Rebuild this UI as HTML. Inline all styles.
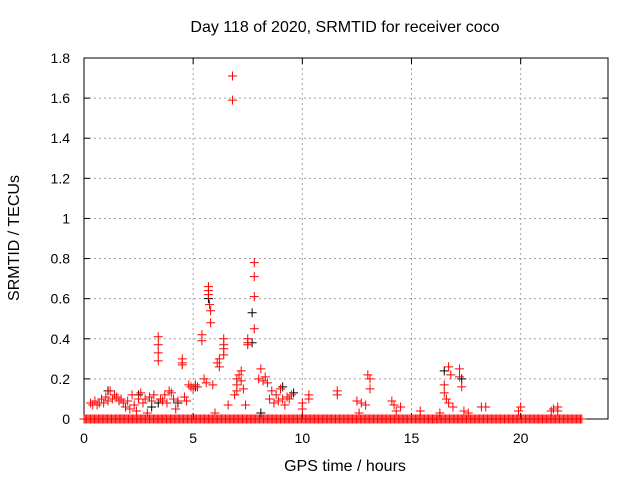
<!DOCTYPE html>
<html><head><meta charset="utf-8"><style>
html,body{margin:0;padding:0;background:#fff;}
svg{display:block;font-family:"Liberation Sans",sans-serif;}
</style></head><body>
<svg id="chart" width="640" height="480" xmlns="http://www.w3.org/2000/svg">
<rect width="640" height="480" fill="#fff"/>
<text x="345" y="32" font-size="16" text-anchor="middle">Day 118 of 2020, SRMTID for receiver coco</text>
<g id="grid"></g><g id="axes"></g><g id="marks"></g>
<text x="345" y="471" font-size="16" text-anchor="middle">GPS time / hours</text>
<text transform="translate(19,238) rotate(-90)" font-size="16" text-anchor="middle">SRMTID / TECUs</text>
</svg>
<script>
const xTicks=[0,5,10,15,20];
const yTicks=[0,0.2,0.4,0.6,0.8,1,1.2,1.4,1.6,1.8];
const yTickLabels=["0","0.2","0.4","0.6","0.8","1","1.2","1.4","1.6","1.8"];
const zeroRanges=[[0,22.8]];
const redTimes=[0.3,0.4,0.5,0.6,0.7,0.8,0.9,1.0,1.1,1.2,1.3,1.4,1.5,1.6,1.7,1.8,1.9,2.0,2.1,2.2,2.3,2.4,2.5,2.6,2.7,2.8,2.9,3.0,3.1,3.2,3.4,3.4,3.4,3.4,3.5,3.6,3.7,3.8,3.9,4.0,4.1,4.2,4.3,4.5,4.5,4.5,4.6,4.7,4.8,4.9,5.0,5.1,5.2,5.4,5.4,5.5,5.6,5.7,5.7,5.7,5.75,5.8,5.8,5.9,6.0,6.1,6.2,6.2,6.4,6.4,6.4,6.4,6.6,6.8,6.8,6.9,7.0,7.0,7.0,7.1,7.2,7.2,7.3,7.4,7.5,7.5,7.5,7.8,7.8,7.8,7.8,8.0,8.1,8.2,8.3,8.4,8.5,8.6,8.7,8.8,8.9,9.0,9.1,9.2,9.3,9.4,9.5,10.0,10.0,10.3,10.3,11.6,11.6,12.5,12.6,12.7,12.9,13.0,13.1,13.1,14.1,14.2,14.3,14.5,15.4,16.3,16.5,16.5,16.6,16.7,16.7,16.8,16.9,17.2,17.2,17.3,17.4,17.6,18.2,18.4,19.9,20.0,21.4,21.5,21.7,21.7];
const redValues=[0.08,0.07,0.09,0.07,0.08,0.1,0.08,0.11,0.09,0.14,0.1,0.12,0.11,0.09,0.1,0.08,0.06,0.09,0.05,0.12,0.07,0.04,0.1,0.13,0.08,0.1,0.03,0.11,0.09,0.12,0.41,0.37,0.33,0.29,0.1,0.09,0.12,0.08,0.14,0.13,0.1,0.05,0.09,0.3,0.28,0.27,0.11,0.09,0.17,0.16,0.15,0.17,0.16,0.42,0.39,0.2,0.18,0.66,0.64,0.62,0.57,0.54,0.48,0.17,0.03,0.28,0.3,0.26,0.4,0.37,0.35,0.32,0.07,1.71,1.59,0.12,0.2,0.17,0.14,0.22,0.24,0.19,0.15,0.07,0.4,0.38,0.37,0.78,0.71,0.61,0.45,0.2,0.25,0.19,0.21,0.18,0.1,0.14,0.08,0.12,0.09,0.15,0.1,0.07,0.11,0.1,0.12,0.08,0.05,0.12,0.1,0.14,0.12,0.09,0.03,0.08,0.07,0.22,0.2,0.15,0.09,0.07,0.04,0.06,0.04,0.03,0.17,0.13,0.1,0.08,0.26,0.22,0.06,0.25,0.21,0.16,0.04,0.03,0.06,0.06,0.04,0.06,0.04,0.05,0.04,0.06];
const blackTimes=[1.1,2.5,3.1,3.4,4.3,5.1,5.7,7.7,7.7,8.1,9.1,9.6,16.5,17.3];
const blackValues=[0.14,0.12,0.06,0.08,0.08,0.16,0.6,0.53,0.38,0.03,0.16,0.13,0.24,0.2];

const L=84,R=608,T=58,B=419,XMAX=24,YMAX=1.8;
const xs=t=>L+(R-L)*t/XMAX, ys=v=>B-(B-T)*v/YMAX;
const NS="http://www.w3.org/2000/svg";
function mk(tag,attrs,parent){const e=document.createElementNS(NS,tag);for(const k in attrs)e.setAttribute(k,attrs[k]);parent.appendChild(e);return e;}
const grid=document.getElementById('grid'),axes=document.getElementById('axes'),marks=document.getElementById('marks');
yTicks.forEach((v,i)=>{const y=ys(v);
 if(i>0&&i<yTicks.length-1){const g=mk('line',{x1:L,x2:R,y1:y,y2:y,stroke:'#a0a0a0','stroke-dasharray':'2,3'},grid);
 
 }
 mk('line',{x1:L,x2:L+6,y1:y,y2:y,stroke:'#000'},axes);mk('line',{x1:R,x2:R-6,y1:y,y2:y,stroke:'#000'},axes);
 const t=mk('text',{x:70,y:y+5,'font-size':14,'text-anchor':'end'},axes);t.textContent=yTickLabels[i];
 
 });
xTicks.forEach(v=>{const x=xs(v);
 if(v>0){const g=mk('line',{x1:x,x2:x,y1:T,y2:B,stroke:'#a0a0a0','stroke-dasharray':'2,3'},grid);
 
 }
 mk('line',{x1:x,x2:x,y1:B,y2:B-6,stroke:'#000'},axes);mk('line',{x1:x,x2:x,y1:T,y2:T+6,stroke:'#000'},axes);
 const t=mk('text',{x:x,y:443,'font-size':14,'text-anchor':'middle'},axes);t.textContent=String(v);
 
 });
const fr=mk('rect',{x:L,y:T,width:R-L,height:B-T,fill:'none',stroke:'#000'},axes);


function plus(t,v,col,name){const x=xs(t),y=ys(v);
 const p=mk('path',{d:`M${x-4.5},${y}h9M${x},${y-4.5}v9`,stroke:col,'stroke-width':1,fill:'none'},marks);
 
 }
zeroRanges.forEach(r=>{for(let t=r[0];t<=r[1]+1e-9;t+=0.06)plus(t,0,'#ff0000','zero-point');});
blackTimes.forEach((t,i)=>plus(t,blackValues[i],'#000000','black-point'));
redTimes.forEach((t,i)=>plus(t,redValues[i],'#ff0000','red-point'));
</script>
</body></html>
